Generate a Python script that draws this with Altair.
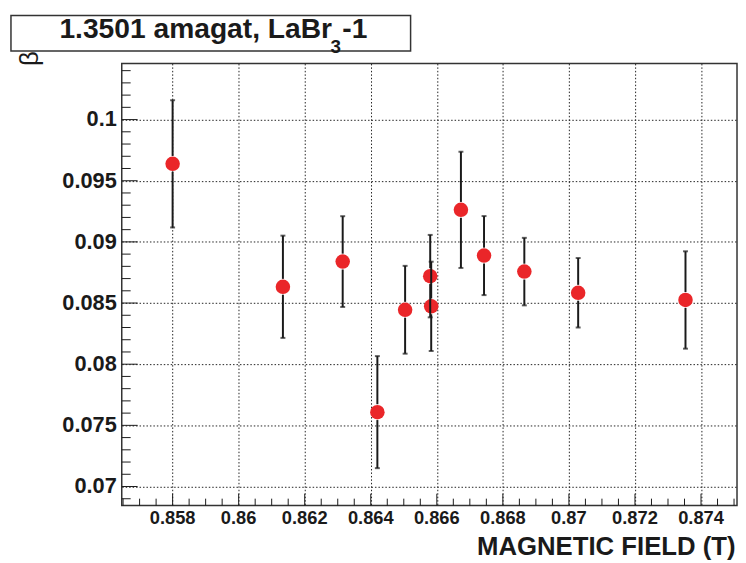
import altair as alt
import pandas as pd

# ---- data ----
field = [0.858, 0.86134, 0.86315, 0.8642, 0.86504, 0.8658, 0.86583,
         0.86673, 0.86743, 0.86865, 0.87028, 0.87353]
beta = [0.09638, 0.08633, 0.08839, 0.07608, 0.08445, 0.0872, 0.08473,
        0.09262, 0.08888, 0.08757, 0.08584, 0.08525]
err = [0.0052, 0.00418, 0.00371, 0.00458, 0.00359, 0.00337, 0.00365,
       0.00475, 0.00323, 0.00276, 0.00284, 0.00398]

x_major = [0.858, 0.860, 0.862, 0.864, 0.866, 0.868, 0.870, 0.872, 0.874]
x_labels = ["0.858", "0.86", "0.862", "0.864", "0.866", "0.868", "0.87", "0.872", "0.874"]
y_major = [0.070, 0.075, 0.080, 0.085, 0.090, 0.095, 0.100]
y_labels = ["0.07", "0.075", "0.08", "0.085", "0.09", "0.095", "0.1"]
x_minor = [round(0.8565 + i * 0.0005, 4) for i in range(38)]
x_minor = [v for v in x_minor if all(abs(v - m) > 1e-7 for m in x_major)]
y_minor = [round(0.069 + i * 0.001, 3) for i in range(36)]
y_minor = [v for v in y_minor if all(abs(v - m) > 1e-7 for m in y_major)]

title_main = "1.3501 amagat, LaBr"
title_sub = "3"
title_end = "-1"
x_title = "MAGNETIC FIELD (T)"
y_title = "β"

X_MIN, X_MAX = 0.85646, 0.87509
Y_MIN, Y_MAX = 0.06844, 0.10459
W, H = 622, 447
RED = "#ea2629"
INK = "#1a1a1a"
FONT = "Liberation Sans"

gap = 8.0 * (Y_MAX - Y_MIN) / H

df = pd.DataFrame({"field": field, "beta": beta, "err": err})
df["lo"] = df["beta"] - df["err"]
df["hi"] = df["beta"] + df["err"]
df["lo_in"] = df["beta"] - gap
df["hi_in"] = df["beta"] + gap

xs = alt.Scale(domain=[X_MIN, X_MAX], zero=False, nice=False)
ys = alt.Scale(domain=[Y_MIN, Y_MAX], zero=False, nice=False)

xaxis = alt.Axis(values=x_major, labels=False,
                 grid=True, ticks=False, domain=False,
                 title=x_title, titleFont=FONT, titleFontWeight="bold",
                 titleColor=INK, titleFontSize=26, titleAlign="right",
                 titleAnchor="end", titleX=620, titleY=49,
                 titleBaseline="alphabetic")
yaxis = alt.Axis(values=y_major, labels=False,
                 grid=True, ticks=False, domain=False, title=None)

base = alt.Chart(df)

pts = base.mark_circle(size=215, color=RED, opacity=1).encode(
    x=alt.X("field:Q", scale=xs, axis=xaxis),
    y=alt.Y("beta:Q", scale=ys, axis=yaxis),
)
bar_lo = base.mark_rule(color=INK, strokeWidth=2).encode(
    x="field:Q", y="lo:Q", y2="lo_in:Q")
bar_hi = base.mark_rule(color=INK, strokeWidth=2).encode(
    x="field:Q", y="hi_in:Q", y2="hi:Q")
cap_lo = base.mark_tick(color=INK, orient="horizontal", size=5, thickness=2).encode(
    x="field:Q", y="lo:Q")
cap_hi = base.mark_tick(color=INK, orient="horizontal", size=5, thickness=2).encode(
    x="field:Q", y="hi:Q")

xt_major = alt.Chart(pd.DataFrame({"v": x_major})).mark_rule(color=INK, strokeWidth=1).encode(
    x="v:Q", y=alt.value(H), y2=alt.value(H - 12))
xt_minor = alt.Chart(pd.DataFrame({"v": x_minor})).mark_rule(color=INK, strokeWidth=1).encode(
    x="v:Q", y=alt.value(H), y2=alt.value(H - 7))
yt_major = alt.Chart(pd.DataFrame({"v": y_major})).mark_rule(color=INK, strokeWidth=1).encode(
    y="v:Q", x=alt.value(0), x2=alt.value(16))
yt_minor = alt.Chart(pd.DataFrame({"v": y_minor})).mark_rule(color=INK, strokeWidth=1).encode(
    y="v:Q", x=alt.value(0), x2=alt.value(9))

# tick labels as text marks placed through the scales
xl = alt.Chart(pd.DataFrame({"v": x_major, "t": x_labels})).mark_text(
    font=FONT, fontWeight="bold", fontSize=18.5, color=INK,
    align="center", baseline="top").encode(
    x="v:Q", y=alt.value(H + 4), text="t:N")
yl = alt.Chart(pd.DataFrame({"v": y_major, "t": y_labels})).mark_text(
    font=FONT, fontWeight="bold", fontSize=22, color=INK,
    align="right", baseline="middle").encode(
    y="v:Q", x=alt.value(-5), text="t:N")

one = alt.Chart(pd.DataFrame({"k": [0]}))
box = one.mark_rect(fill="white", stroke="#333333", strokeWidth=1.5).encode(
    x=alt.value(-112), x2=alt.value(292), y=alt.value(-48.5), y2=alt.value(-12.5))
t1 = one.mark_text(text=title_main, font=FONT, fontWeight="bold", fontSize=28.5,
                   align="left", baseline="alphabetic", color=INK).encode(
    x=alt.value(-63), y=alt.value(-26))
t2 = one.mark_text(text=title_sub, font=FONT, fontWeight="bold", fontSize=19,
                   align="left", baseline="alphabetic", color=INK).encode(
    x=alt.value(211), y=alt.value(-10.5))
t3 = one.mark_text(text=title_end, font=FONT, fontWeight="bold", fontSize=28.5,
                   align="left", baseline="alphabetic", color=INK).encode(
    x=alt.value(223), y=alt.value(-26))
tb = one.mark_text(text=y_title, font=FONT, fontSize=26, angle=270,
                   align="center", baseline="middle", color=INK).encode(
    x=alt.value(-93), y=alt.value(-5))

chart = alt.layer(
    pts, bar_lo, bar_hi, cap_lo, cap_hi,
    xt_major, xt_minor, yt_major, yt_minor, xl, yl,
    box, t1, t2, t3, tb,
).properties(
    width=W, height=H,
    autosize=alt.AutoSizeParams(type="none"),
    padding={"left": 115, "top": 53, "right": 1, "bottom": 55},
    background="white",
).configure_view(
    stroke="#333333", strokeWidth=1.5
).configure_axis(
    gridColor="#222222", gridOpacity=1, gridWidth=1, gridDash=[1.5, 2],
)

chart.save("out.html", embed_options={"renderer": "svg", "actions": False})
